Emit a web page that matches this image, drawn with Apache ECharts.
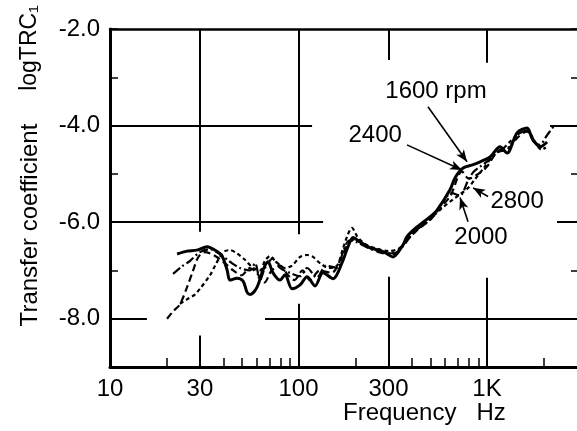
<!DOCTYPE html>
<html>
<head>
<meta charset="utf-8">
<script src="https://cdn.jsdelivr.net/npm/echarts@6/dist/echarts.min.js"></script>
<style>
html, body { margin: 0; padding: 0; background: #fff; }
#chart { width: 577px; height: 431px; }
</style>
</head>
<body>
<div id="chart"></div>
<script>
// tick labels / ticks of the frequency axis
var xLabelValues = [10, 30, 100, 300, 1000];
var xMinorTicks = [20, 40, 50, 60, 70, 80, 90, 200, 400, 500, 600, 700, 800, 900, 2000];

// curves [frequency Hz, log TRC]
var rpm1600 = [
    [22.7, -6.66], [25.6, -6.60], [28.9, -6.58], [32.7, -6.51], [37.0, -6.61], [39.3, -6.70],
    [41.8, -6.99], [43.3, -7.20], [47.2, -7.16], [50.8, -7.22], [53.3, -7.45], [55.3, -7.50],
    [60.2, -7.35], [64.8, -6.99], [68.9, -6.82], [73.2, -7.05], [79.8, -7.20], [84.8, -7.09],
    [92.4, -7.38], [101.9, -7.30], [111, -7.13], [122.3, -7.32], [134.9, -7.05], [152.4, -7.17],
    [170.2, -6.84], [183.1, -6.51], [194.6, -6.32], [212, -6.41], [239.5, -6.53], [280.7, -6.61],
    [317, -6.72], [358.5, -6.47], [376, -6.30], [425, -6.10], [498, -5.89], [543, -5.75],
    [636, -5.33], [677, -5.08], [746, -4.88], [843, -4.81], [919, -4.75], [1037, -4.65],
    [1172, -4.44], [1277, -4.57], [1443, -4.15], [1631, -4.05], [1733, -4.26], [1911, -4.44],
    [2082, -4.34]
];
var rpm2000 = [
    [21.6, -7.07], [24, -6.92], [26.6, -6.80], [30, -6.62], [33.9, -6.56], [38.3, -6.66],
    [43.3, -6.82], [48.9, -6.95], [55.3, -7.00], [58.8, -6.85], [62.5, -7.20], [66.4, -6.95],
    [73.2, -6.75], [79.8, -6.95], [90.1, -7.05], [101.9, -7.12], [111, -6.95], [125, -7.15],
    [140, -6.90], [160, -6.95], [172, -6.62], [186, -6.38], [205, -6.42], [240, -6.55],
    [281, -6.62], [317, -6.66], [358, -6.50], [410, -6.20], [498, -5.95], [560, -5.68],
    [650, -5.40], [719, -5.45], [790, -5.15], [843, -4.97], [919, -4.85], [1037, -4.70],
    [1172, -4.50], [1300, -4.45], [1443, -4.20], [1631, -4.10], [1750, -4.30], [1900, -4.40],
    [2080, -4.20], [2250, -4.02]
];
var rpm2400 = [
    [20.07, -8.00], [21.6, -7.85], [23.5, -7.70], [25.6, -7.35], [27.6, -7.00], [28.9, -6.78],
    [30, -6.68], [31.9, -6.62], [36.1, -6.70], [40.7, -6.85], [45, -7.00], [50, -7.10],
    [55, -6.95], [60, -7.05], [66, -7.25], [72, -7.00], [80, -6.90], [88, -7.10], [95, -7.20],
    [105, -7.00], [115, -7.20], [130, -7.00], [150, -7.05], [168, -6.75], [183, -6.45],
    [200, -6.35], [220, -6.45], [250, -6.58], [290, -6.65], [330, -6.62], [370, -6.40],
    [430, -6.15], [500, -5.95], [560, -5.72], [640, -5.45], [736, -4.95], [800, -5.10],
    [900, -5.00], [1000, -4.85], [1130, -4.55], [1280, -4.50], [1450, -4.25], [1631, -4.12],
    [1780, -4.35], [1950, -4.45]
];
var rpm2800 = [
    [23.5, -7.69], [25.6, -7.60], [28.2, -7.50], [30, -7.38], [33.9, -7.10], [36.1, -6.90],
    [38.3, -6.72], [40.7, -6.60], [43.3, -6.58], [47.2, -6.65], [52, -6.78], [57.4, -6.95],
    [62.5, -7.00], [66.4, -6.80], [70.6, -6.70], [75, -6.80], [84.8, -6.95], [92.4, -6.90],
    [101.9, -6.72], [111, -6.68], [119.4, -6.72], [130, -6.85], [145, -6.95], [160, -6.90],
    [172, -6.55], [183, -6.25], [192, -6.12], [205, -6.30], [225, -6.45], [260, -6.55],
    [300, -6.60], [340, -6.55], [380, -6.35], [440, -6.10], [510, -5.90], [580, -5.70],
    [650, -5.55], [720, -5.42], [790, -5.30], [860, -5.12], [960, -4.88], [1080, -4.62],
    [1200, -4.50], [1350, -4.30], [1500, -4.15], [1650, -4.12], [1800, -4.35], [1950, -4.50],
    [2050, -4.45]
];

// broken grid lines of the original drawing, in axis values
var gridSegments = [
    [[10, -4], [118, -4]], [[2158, -4], [3000, -4]],
    [[10, -6], [135, -6]], [[2350, -6], [3000, -6]],
    [[10, -8], [15.7, -8]], [[66.4, -8], [3000, -8]],
    [[30, -2], [30, -6.2]], [[30, -8.35], [30, -9]],
    [[100, -2], [100, -6.25]], [[100, -7.69], [100, -9]],
    [[300, -2], [300, -2.64]], [[300, -7.13], [300, -9]],
    [[1000, -2], [1000, -2.7]], [[1000, -7.15], [1000, -9]]
];

// rpm labels and arrows
var noteTexts = [
    {name: '1600 rpm', at: [536, -3.30]},
    {name: '2400', at: [255, -4.21]},
    {name: '2800', at: [1443, -5.58]},
    {name: '2000', at: [929, -6.32]}
];
var noteArrows = [
    [[486, -3.61], [783, -4.75]],
    [[376, -4.40], [736, -4.92]],
    [[1012, -5.47], [843, -5.29]],
    [[793, -5.99], [719, -5.49]]
];

var font = 'Liberation Sans, Arial, sans-serif';

var chart = echarts.init(document.getElementById('chart'));

function curve(name, data, width, dash) {
    return {
        name: name,
        type: 'line',
        data: data,
        smooth: 0.3,
        showSymbol: false,
        silent: true,
        lineStyle: {color: '#000', width: width, type: dash}
    };
}

var series = [
    curve('1600', rpm1600, 3, 'solid'),
    curve('2000', rpm2000, 2.2, [9, 3, 2, 3]),
    curve('2400', rpm2400, 2.2, [7, 4]),
    curve('2800', rpm2800, 2.2, [4, 3])
];

series[0].markLine = {
    silent: true,
    symbol: 'none',
    animation: false,
    label: {show: false},
    lineStyle: {color: '#000', width: 2, type: 'solid'},
    data: gridSegments.map(function (s) {
        return [{coord: s[0]}, {coord: s[1]}];
    }).concat(noteArrows.map(function (a) {
        return [{coord: a[0], symbol: 'none', lineStyle: {width: 1.6}},
                {coord: a[1], symbol: 'arrow', symbolSize: [7, 12]}];
    }))
};
series[0].markPoint = {
    silent: true,
    animation: false,
    symbol: 'circle',
    symbolSize: 0,
    label: {
        show: true,
        position: 'inside',
        color: '#000',
        fontFamily: font,
        fontSize: 24,
        formatter: '{b}'
    },
    data: noteTexts.map(function (t) {
        return {name: t.name, coord: t.at};
    })
};

var option = {
    animation: false,
    backgroundColor: '#fff',
    grid: {left: 110, right: 0, top: 29, bottom: 64},
    xAxis: [{
        type: 'log',
        logBase: 10,
        min: 10,
        max: 3000,
        position: 'bottom',
        axisLine: {show: true, lineStyle: {color: '#000', width: 3}},
        axisTick: {show: true, inside: true, length: 9, customValues: xMinorTicks,
                   lineStyle: {color: '#000', width: 1.5}},
        axisLabel: {
            customValues: xLabelValues,
            color: '#000',
            fontFamily: font,
            fontSize: 24,
            margin: 10,
            formatter: function (v) { return v >= 1000 ? (v / 1000) + 'K' : String(v); }
        },
        splitLine: {show: false}
    }, {
        type: 'log',
        logBase: 10,
        min: 10,
        max: 3000,
        position: 'top',
        axisLine: {show: true, lineStyle: {color: '#000', width: 2.5}},
        axisTick: {show: false},
        axisLabel: {show: false},
        splitLine: {show: false}
    }],
    yAxis: [{
        type: 'value',
        min: -9,
        max: -2,
        interval: 1,
        axisLine: {show: true, lineStyle: {color: '#000', width: 3}},
        axisTick: {show: true, inside: true, length: 8, lineStyle: {color: '#000', width: 1.5}},
        axisLabel: {
            color: '#000',
            fontFamily: font,
            fontSize: 24,
            margin: 10,
            formatter: function (v) { return v % 2 === 0 ? v.toFixed(1) : ''; }
        },
        splitLine: {show: false}
    }, {
        type: 'value',
        min: -9,
        max: -2,
        interval: 1,
        position: 'right',
        axisLine: {show: false},
        axisTick: {show: true, inside: true, length: 6, lineStyle: {color: '#000', width: 1.5}},
        axisLabel: {show: false},
        splitLine: {show: false}
    }],
    graphic: [{
        type: 'text',
        x: 30, y: 225,
        rotation: Math.PI / 2,
        style: {text: 'Transfer coefficient', font: '24px ' + font, fill: '#000',
                textAlign: 'center', textVerticalAlign: 'middle'}
    }, {
        type: 'text',
        x: 30, y: 48,
        rotation: Math.PI / 2,
        style: {text: 'logTRC\u2081', font: '23px ' + font, fill: '#000',
                textAlign: 'center', textVerticalAlign: 'middle'}
    }, {
        type: 'text',
        x: 343, y: 413,
        style: {text: 'Frequency   Hz', font: '24px ' + font, fill: '#000',
                textAlign: 'left', textVerticalAlign: 'middle'}
    }],
    series: series
};
chart.setOption(option);
</script>
</body>
</html>
